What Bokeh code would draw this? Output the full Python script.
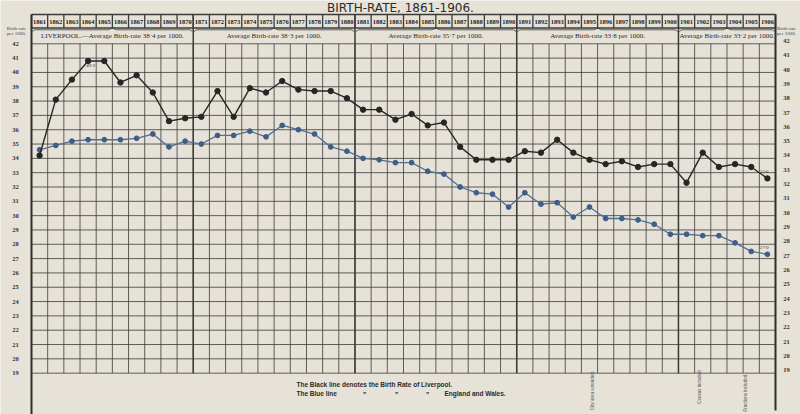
import math
from bokeh.plotting import figure
from bokeh.models import Range1d
from bokeh.embed import file_html
from bokeh.resources import INLINE
from bokeh.core.properties import value

# ---------------- data ----------------
years = list(range(1861, 1907))
liverpool = [34.2, 38.1, 39.5, 40.8, 40.8, 39.3, 39.8, 38.6, 36.6, 36.8,
             36.9, 38.7, 36.9, 38.9, 38.6, 39.4, 38.8, 38.7, 38.7, 38.2,
             37.4, 37.4, 36.7, 37.1, 36.3, 36.5, 34.8, 33.9, 33.9, 33.9,
             34.5, 34.4, 35.3, 34.4, 33.9, 33.6, 33.8, 33.4, 33.6, 33.6,
             32.3, 34.4, 33.4, 33.6, 33.4, 32.6]
england_wales = [34.6, 34.9, 35.2, 35.3, 35.3, 35.3, 35.4, 35.7, 34.8, 35.2,
                 35.0, 35.6, 35.6, 35.9, 35.5, 36.3, 36.0, 35.7, 34.8, 34.5,
                 34.0, 33.9, 33.7, 33.7, 33.1, 32.9, 32.0, 31.6, 31.5, 30.6,
                 31.6, 30.8, 30.9, 29.9, 30.6, 29.8, 29.8, 29.7, 29.4, 28.7,
                 28.7, 28.6, 28.6, 28.1, 27.5, 27.3]
rate_ticks = list(range(19, 43))
period_starts = [1861, 1871, 1881, 1891, 1901]
period_ends = [1870, 1880, 1890, 1900, 1906]
period_labels = ["LIVERPOOL.\u2014Average Birth-rate 38\u00b74 per 1000.",
                 "Average Birth-rate 38\u00b73 per 1000.",
                 "Average Birth-rate 35\u00b77 per 1000.",
                 "Average Birth-rate 33\u00b78 per 1000.",
                 "Average Birth-rate 33\u00b72 per 1000."]
note_years = [1864, 1906, 1906]
note_values = [40.8, 32.6, 27.3]
note_texts = ["40\u00b79", "32\u00b76", "27\u00b70"]

# ---------------- layout helpers (pixel -> data) ----------------
PX_YEAR = 16.174
PX_UNIT = 14.32
def dx(px):
    return 1860.5 + (px - 31) / PX_YEAR
def dy(px):
    return 42 - (px - 43.3) / PX_UNIT

PAPER = "#e7e2d8"
INK = "#3b3b39"

p = figure(width=800, height=414, x_range=Range1d(dx(0), dx(800)),
           y_range=Range1d(dy(414), dy(0)), output_backend="svg",
           toolbar_location=None, min_border=0,
           background_fill_color=PAPER, border_fill_color=PAPER)
p.axis.visible = False
p.grid.visible = False
p.outline_line_color = None

x_left = years[0] - 0.5
x_right = years[-1] + 0.5
y_bot = rate_ticks[0]
y_top = rate_ticks[-1]

# horizontal grid
p.segment(x0=[x_left] * len(rate_ticks), x1=[x_right] * len(rate_ticks),
          y0=rate_ticks, y1=rate_ticks, line_color=INK, line_width=1.0, line_alpha=0.8)
# vertical grid (year boundaries)
bounds = [y - 0.5 for y in years] + [years[-1] + 0.5]
p.segment(x0=bounds, x1=bounds, y0=[y_bot] * len(bounds), y1=[y_top] * len(bounds),
          line_color=INK, line_width=1.0, line_alpha=0.8)

# header: year boxes
h_top, h_bot = dy(14), dy(27.5)
p.segment(x0=[x_left, x_left], x1=[x_right, x_right], y0=[h_top, h_bot], y1=[h_top, h_bot],
          line_color=INK, line_width=1.6)
p.segment(x0=bounds, x1=bounds, y0=[h_top] * len(bounds), y1=[h_bot] * len(bounds),
          line_color=INK, line_width=1.3)
p.text(x=years, y=[dy(21)] * len(years), text=[str(y) for y in years],
       text_font=value("Liberation Serif"), text_font_style="bold", text_font_size="6.5px",
       text_color="#222222", text_align="center", text_baseline="middle")

# decade separators (heavier) from header to bottom of grid
dec = [s - 0.5 for s in period_starts[1:]]
p.segment(x0=dec, x1=dec, y0=[y_bot] * len(dec), y1=[h_top] * len(dec),
          line_color=INK, line_width=1.5)
# outer frame
p.segment(x0=[x_left, x_right], x1=[x_left, x_right], y0=[dy(414), dy(410)], y1=[h_top, h_top],
          line_color="#2e2e2c", line_width=2.0)

# brackets under year boxes
bx, by = [], []
for s, e in zip(period_starts, period_ends):
    a, b = s - 0.5, e + 0.5
    m = (a + b) / 2
    bx.append([a + 0.05, a + 0.2, m - 0.25, m, m + 0.25, b - 0.2, b - 0.05])
    by.append([dy(31), dy(29.3), dy(29.3), dy(27.8), dy(29.3), dy(29.3), dy(31)])
p.multi_line(bx, by, line_color=INK, line_width=0.8)

# period averages
centers = [(s + e) / 2 for s, e in zip(period_starts, period_ends)]
p.text(x=centers, y=[dy(35.5)] * len(centers), text=period_labels,
       text_font=value("Liberation Serif"), text_font_size="7px", text_color="#2b2b2b",
       text_align="center", text_baseline="middle")

# title
p.text(x=[dx(400)], y=[dy(7.3)], text=["BIRTH-RATE, 1861-1906."],
       text_font=value("DejaVu Sans"), text_font_size="12px", text_color="#2b2b2b",
       text_align="center", text_baseline="middle")

# axis labels (left and right)
p.text(x=[dx(15)] * len(rate_ticks), y=rate_ticks, text=[str(t) for t in rate_ticks],
       text_font=value("Liberation Serif"), text_font_style="bold", text_font_size="6.5px",
       text_color="#333333", text_align="center", text_baseline="middle")
p.text(x=[dx(786)] * len(rate_ticks), y=[t + 0.2 for t in rate_ticks], text=[str(t) for t in rate_ticks],
       text_font=value("Liberation Serif"), text_font_style="bold", text_font_size="6.5px",
       text_color="#333333", text_align="center", text_baseline="middle")
for xp in (16, 786):
    p.text(x=[dx(xp), dx(xp)], y=[dy(28), dy(33)], text=["Birth-rate", "per 1000."],
           text_font=value("Liberation Serif"), text_font_size="5px", text_color="#444444",
           text_align="center", text_baseline="middle")

# data series
p.line(years, england_wales, line_color="#4f6f96", line_width=1.3)
p.scatter(years, england_wales, size=4.8, fill_color="#3e5e87", line_color="#3e5e87")
p.line(years, liverpool, line_color="#262626", line_width=1.4)
p.scatter(years, liverpool, size=5.4, fill_color="#262626", line_color="#262626")

# value notes
p.text(x=[note_years[0] + 0.15, note_years[1] - 0.2, note_years[2] - 0.2],
       y=[note_values[0] - 0.3, note_values[1] + 0.45, note_values[2] + 0.45],
       text=note_texts, text_font=value("Liberation Serif"), text_font_style="italic",
       text_font_size="5px", text_color="#444444", text_align="center", text_baseline="middle")

# legend text at bottom
fs = "6.5px"
p.text(x=[dx(296)], y=[dy(384)], text=["The Black line denotes the Birth Rate of Liverpool."],
       text_font=value("Liberation Sans"), text_font_style="bold", text_font_size=fs,
       text_color="#2b2b2b", text_align="left", text_baseline="middle")
p.text(x=[dx(296), dx(444)], y=[dy(393), dy(393)], text=["The Blue line", "England and Wales."],
       text_font=value("Liberation Sans"), text_font_style="bold", text_font_size=fs,
       text_color="#2b2b2b", text_align="left", text_baseline="middle")
p.text(x=[dx(364), dx(396), dx(427)], y=[dy(389.5)] * 3, text=["\u201e", "\u201e", "\u201e"],
       text_font=value("Liberation Sans"), text_font_style="bold", text_font_size=fs,
       text_color="#2b2b2b", text_align="center", text_baseline="middle")

# rotated marginal notes
p.text(x=[dx(592), dx(699), dx(745)], y=[dy(390), dy(386), dy(392)],
       text=["City area extended.", "Census included.", "Fractions included."],
       angle=math.pi / 2, text_font=value("Liberation Sans"), text_font_size="4.5px",
       text_color="#555555", text_align="center", text_baseline="middle")

open("out.html", "w").write(file_html(p, INLINE))
